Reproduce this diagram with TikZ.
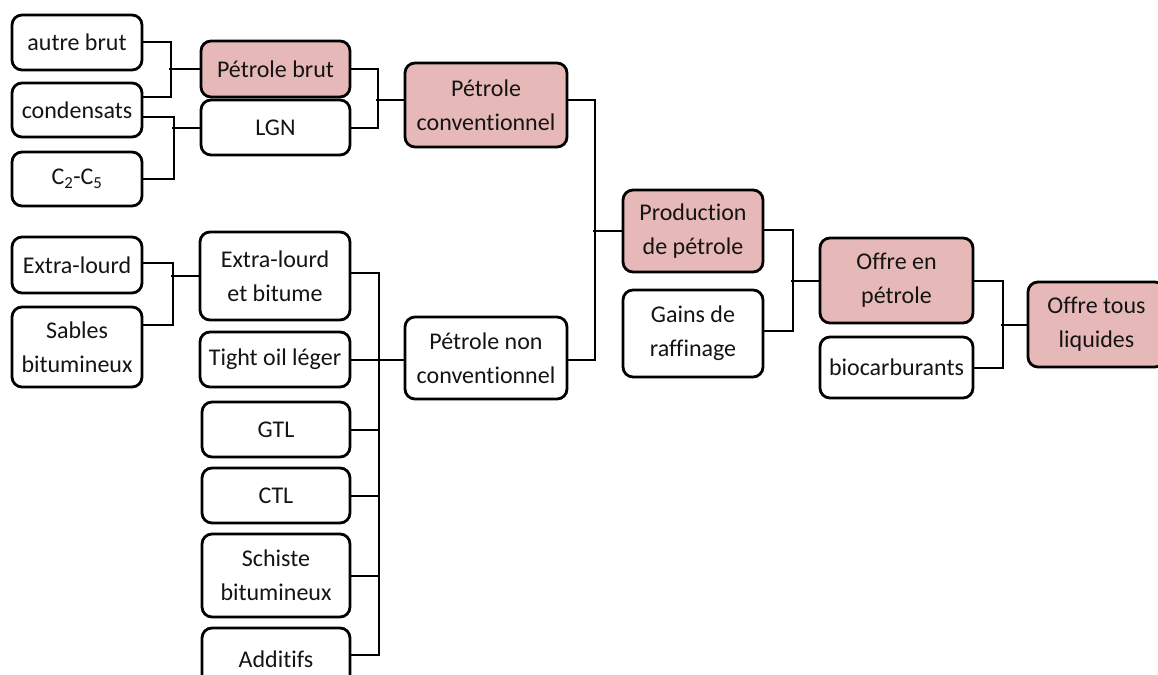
\documentclass[tikz,border=0pt]{standalone}
\usepackage{fontspec}
\setmainfont{Carlito}[Ligatures={NoCommon}]
\definecolor{pinkfill}{HTML}{E6B9B8}
\definecolor{txt}{HTML}{141414}
\begin{document}
\begin{tikzpicture}[x=1pt,y=-1pt,
  box/.style={draw=black, line width=2.8pt, rounded corners=10pt, fill=white,
    align=center, inner sep=0pt, text=txt,
    font=\fontsize{24}{34}\selectfont},
  hl/.style={box, fill=pinkfill},
  conn/.style={draw=black, line width=2pt}]
\useasboundingbox (0,0) rectangle (1158,674);
\clip (0,0) rectangle (1158,674);
% left top column
\node[box, minimum width=130pt, minimum height=55pt] (ab) at (77,42.5) {autre brut};
\node[box, minimum width=130pt, minimum height=54pt] (cond) at (77,110) {condensats};
\node[box, minimum width=130pt, minimum height=54pt] (c25) at (77,179) {C\textsubscript{2}-C\textsubscript{5}};
% second column top
\node[hl, minimum width=149pt, minimum height=56pt] (pb) at (275.5,69) {Pétrole brut};
\node[box, minimum width=149pt, minimum height=55pt] (lgn) at (275.5,127.5) {LGN};
% third column
\node[hl, minimum width=162pt, minimum height=84pt] (pc) at (486,105) {Pétrole\\conventionnel};
\node[box, minimum width=162pt, minimum height=82pt] (pnc) at (486,358) {Pétrole non\\conventionnel};
% fourth column
\node[hl, minimum width=140pt, minimum height=82pt] (prod) at (693,231) {Production\\de pétrole};
\node[box, minimum width=140pt, minimum height=87pt] (gains) at (693,333.5) {Gains de\\raffinage};
% fifth column
\node[hl, minimum width=153pt, minimum height=85pt] (oep) at (896.5,280.5) {Offre en\\pétrole};
\node[box, minimum width=153pt, minimum height=61pt] (bio) at (896.5,367.5) {biocarburants};
% sixth
\node[hl, minimum width=137pt, minimum height=85pt] (otl) at (1096.5,324.5) {Offre tous\\liquides};
% left bottom column
\node[box, minimum width=130pt, minimum height=56pt] (el) at (77,265) {Extra-lourd};
\node[box, minimum width=130pt, minimum height=80pt] (sb) at (77,347) {Sables\\bitumineux};
% second column bottom
\node[box, minimum width=150pt, minimum height=88pt] (elb) at (275,276) {Extra-lourd\\et bitume};
\node[box, minimum width=150pt, minimum height=55pt] (tol) at (275,359.5) {Tight oil léger};
\node[box, minimum width=148pt, minimum height=55pt] (gtl) at (276,429.5) {GTL};
\node[box, minimum width=148pt, minimum height=55pt] (ctl) at (276,495.5) {CTL};
\node[box, minimum width=148pt, minimum height=83pt] (sch) at (276,575.5) {Schiste\\bitumineux};
\node[box, minimum width=148pt, minimum height=62pt] (add) at (276,659) {Additifs};
% connectors
\draw[conn] (ab.east) -- ++(28,0) |- ([yshift=13pt]cond.east);
\draw[conn] (pb.west) -- ++(-31,0);
\draw[conn] ([yshift=-7pt]cond.east) -- ++(31,0) |- (c25.east);
\draw[conn] (lgn.west) -- ++(-28,0);
\draw[conn] (pb.east) -- ++(27,0) |- (lgn.east);
\draw[conn] ([yshift=5pt]pc.west) -- ++(-28,0);
\draw[conn] ([yshift=5pt]pc.east) -- ++(27,0) |- ([yshift=-2pt]pnc.east);
\draw[conn] (prod.west) -- ++(-29,0);
\draw[conn] ([yshift=1pt]prod.east) -- ++(29,0) |- ([yshift=3pt]gains.east);
\draw[conn] (oep.west) -- ++(-28,0);
\draw[conn] (oep.east) -- ++(29,0) |- (bio.east);
\draw[conn] (otl.west) -- ++(-26,0);
\draw[conn] ([yshift=2pt]el.east) -- ++(30,0) |- ([yshift=22pt]sb.east);
\draw[conn] (elb.west) -- ++(-28,0);
\draw[conn] ([yshift=3pt]elb.east) -- ++(28,0) |- ([yshift=4pt]add.east);
\draw[conn] (tol.east) -- (tol.east -| pnc.west);
\draw[conn] (gtl.east) -- ++(27,0);
\draw[conn] (ctl.east) -- ++(27,0);
\draw[conn] (sch.east) -- ++(27,0);
\end{tikzpicture}
\end{document}
